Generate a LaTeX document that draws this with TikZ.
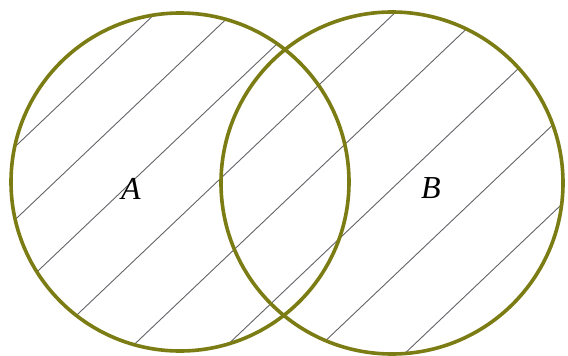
\documentclass[tikz,border=0pt]{standalone}
\usepackage{fontspec}
\setmainfont{Liberation Serif}
\definecolor{olivering}{RGB}{124,124,20}
\definecolor{hatchgray}{RGB}{100,100,105}

\begin{document}
\begin{tikzpicture}[x=1pt,y=-1pt,
  ring/.style={draw=olivering,line width=3.6pt},
  hatch/.style={draw=hatchgray,line width=0.9pt},
  setlabel/.style={font=\fontsize{32}{32}\selectfont\itshape}]
\useasboundingbox[fill=white] (0,0) rectangle (568,356);
\coordinate (cA) at (180,182);
\coordinate (cB) at (392,183);
% hatching over the union
\begin{scope}
  \clip (cA) circle (169pt) (cB) circle (171pt);
  \foreach \u in {161,234,307,388,472,561,650,738} { \draw[hatch] (0,\u) -- (568,\u-539.6); }
\end{scope}
% the two sets
\draw[ring] (cA) circle (169pt);
\draw[ring] (cB) circle (171pt);
\node[setlabel] (labA) at (131,189) {A};
\node[setlabel] (labB) at (431,188) {B};
\end{tikzpicture}
\end{document}
